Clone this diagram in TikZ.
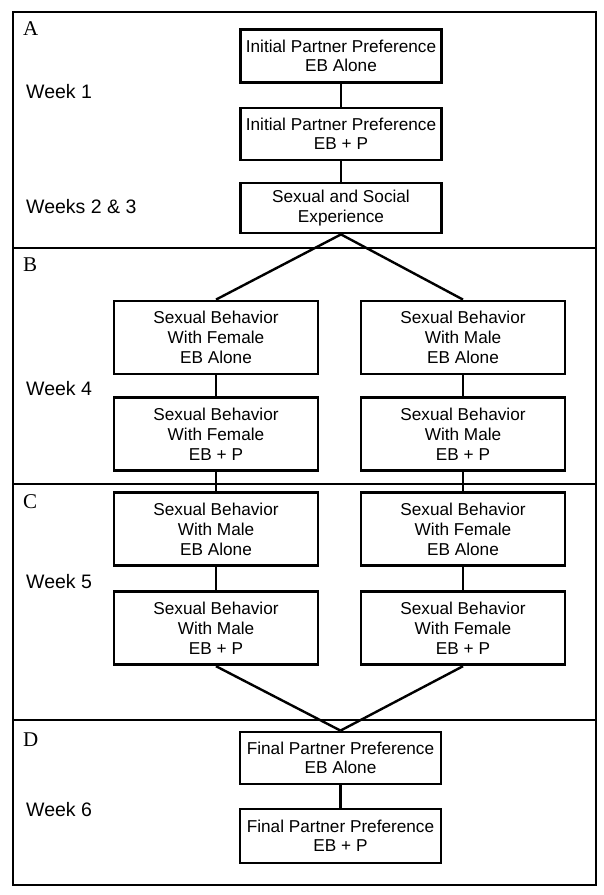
\documentclass[tikz,border=0pt]{standalone}
\usepackage{fontspec}
\setmainfont{Liberation Sans}
\newfontfamily\serifletters{Liberation Serif}
\begin{document}
\begin{tikzpicture}[x=1pt,y=-1pt,
  stepbox/.style={draw=black,line width=2.8pt,align=center,inner sep=0pt,
    font=\fontsize{17.2}{20.3}\selectfont},
  widebox/.style={stepbox,minimum width=201pt,font=\fontsize{17.2}{19.5}\selectfont},
  sidebox/.style={stepbox,minimum width=204pt,minimum height=73pt},
  link/.style={line width=2.4pt},
  divider/.style={line width=2pt},
  weeklbl/.style={anchor=base west,inner sep=0pt,font=\fontsize{19.5}{22}\selectfont},
  partlbl/.style={anchor=base west,inner sep=0pt,font=\serifletters\fontsize{21}{24}\selectfont}]
\useasboundingbox (0,0) rectangle (604,895);
\fill[white] (0,0) rectangle (604,895);
% frame and dividers
\draw[line width=2.4pt] (13,12) rectangle (596,885);
\draw[divider] (13,248) -- (596,248);
\draw[divider] (13,484) -- (596,484);
\draw[divider] (13,720) -- (596,720);
% part letters
\node[partlbl] (pA) at (23,35) {A};
\node[partlbl] (pB) at (23,271) {B};
\node[partlbl] (pC) at (23,508) {C};
\node[partlbl] (pD) at (23,746) {D};
% week labels
\node[weeklbl] (w1) at (26,98.5) {Week 1};
\node[weeklbl] (w23) at (26,213) {Weeks 2 \& 3};
\node[weeklbl] (w4) at (26,395) {Week 4};
\node[weeklbl] (w5) at (26,588) {Week 5};
\node[weeklbl] (w6) at (26,816) {Week 6};
% boxes A
\node[widebox,minimum height=53pt] (a1) at (341,56) {Initial Partner Preference\\EB Alone};
\node[widebox,minimum height=52pt] (a2) at (341,134) {Initial Partner Preference\\EB + P};
\node[widebox,minimum height=50pt] (a3) at (341,208) {Sexual and Social\\Experience};
% boxes B
\node[sidebox] (bl1) at (216,337.5) {Sexual Behavior\\With Female\\EB Alone};
\node[sidebox] (bl2) at (216,434.3) {Sexual Behavior\\With Female\\EB + P};
\node[sidebox] (br1) at (463,337.5) {Sexual Behavior\\With Male\\EB Alone};
\node[sidebox] (br2) at (463,434.3) {Sexual Behavior\\With Male\\EB + P};
% boxes C
\node[sidebox] (cl1) at (216,529.3) {Sexual Behavior\\With Male\\EB Alone};
\node[sidebox] (cl2) at (216,628.3) {Sexual Behavior\\With Male\\EB + P};
\node[sidebox] (cr1) at (463,529.3) {Sexual Behavior\\With Female\\EB Alone};
\node[sidebox] (cr2) at (463,628.3) {Sexual Behavior\\With Female\\EB + P};
% boxes D
\node[widebox,minimum height=52pt] (d1) at (340.5,758) {Final Partner Preference\\EB Alone};
\node[widebox,minimum height=54pt] (d2) at (340.5,836) {Final Partner Preference\\EB + P};
% connectors
\draw[link] (a1) -- (a2);
\draw[link] (a2) -- (a3);
\draw[link] (a3.south) -- (bl1.north);
\draw[link] (a3.south) -- (br1.north);
\draw[link] (bl1) -- (bl2);
\draw[link] (br1) -- (br2);
\draw[link] (bl2) -- (cl1);
\draw[link] (br2) -- (cr1);
\draw[link] (cl1) -- (cl2);
\draw[link] (cr1) -- (cr2);
\draw[link] (cl2.south) -- (d1.north);
\draw[link] (cr2.south) -- (d1.north);
\draw[link] (d1) -- (d2);
\end{tikzpicture}
\end{document}
